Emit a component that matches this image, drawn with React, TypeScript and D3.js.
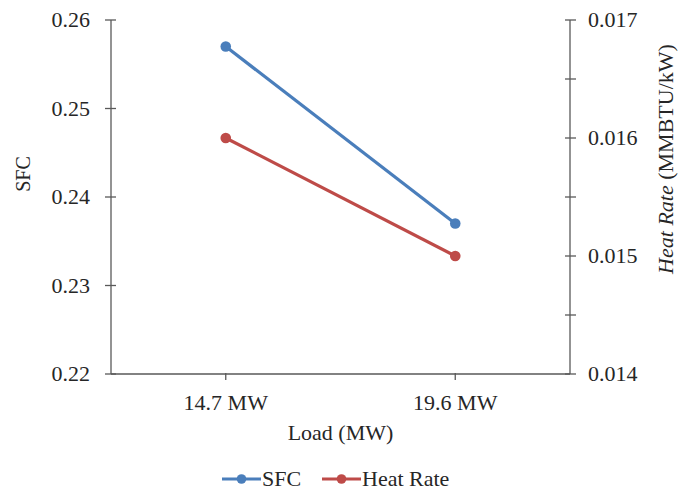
import { useEffect, useRef } from "react";
import * as d3 from "d3";

const loads = ["14.7 MW", "19.6 MW"];
const sfcValues = [0.257, 0.237];
const heatRateValues = [0.016, 0.015];
const sfcTicks = [0.22, 0.23, 0.24, 0.25, 0.26];
const heatTicks = [0.014, 0.0145, 0.015, 0.0155, 0.016, 0.0165, 0.017];
const heatLabels = [0.014, 0.015, 0.016, 0.017];

const WIDTH = 679;
const HEIGHT = 492;
const FONT = "'Liberation Serif', 'Times New Roman', serif";
const FS = 22;
const AXIS = "#595959";
const TEXT = "#262626";
const BLUE = "#4a7ebb";
const RED = "#be4b48";

export default function App() {
  const svgRef = useRef<SVGSVGElement | null>(null);

  useEffect(() => {
    const svgElement = svgRef.current;
    if (!svgElement) return;
    const svg = d3.select(svgElement);
    svg.selectAll("*").remove();

    const margin = { top: 20, right: 109, bottom: 118, left: 111 };
    const left = margin.left;
    const right = WIDTH - margin.right;
    const top = margin.top;
    const bottom = HEIGHT - margin.bottom;

    const x = d3.scalePoint<string>().domain(loads).range([left, right]).padding(0.5);
    const ySfc = d3.scaleLinear().domain([0.22, 0.26]).range([bottom, top]);
    const yHeat = d3.scaleLinear().domain([0.014, 0.017]).range([bottom, top]);

    // left axis
    svg.append("line")
      .attr("x1", left).attr("x2", left).attr("y1", top).attr("y2", bottom)
      .attr("stroke", AXIS).attr("stroke-width", 1.3);
    svg.selectAll(".ltick").data(sfcTicks).enter().append("line")
      .attr("x1", left - 6).attr("x2", left + 5)
      .attr("y1", (d) => ySfc(d)).attr("y2", (d) => ySfc(d))
      .attr("stroke", AXIS).attr("stroke-width", 1.3);
    svg.selectAll(".llabel").data(sfcTicks).enter().append("text")
      .attr("x", left - 21).attr("y", (d) => ySfc(d)).attr("dy", "0.33em")
      .attr("text-anchor", "end").attr("font-family", FONT).attr("font-size", FS)
      .attr("fill", TEXT).text((d) => d3.format(".2f")(d));

    // right axis
    svg.append("line")
      .attr("x1", right).attr("x2", right).attr("y1", top).attr("y2", bottom)
      .attr("stroke", AXIS).attr("stroke-width", 1.3);
    svg.selectAll(".rtick").data(heatTicks).enter().append("line")
      .attr("x1", right - 5).attr("x2", right + 6)
      .attr("y1", (d) => yHeat(d)).attr("y2", (d) => yHeat(d))
      .attr("stroke", AXIS).attr("stroke-width", 1.3);
    svg.selectAll(".rlabel").data(heatLabels).enter().append("text")
      .attr("x", right + 18).attr("y", (d) => yHeat(d)).attr("dy", "0.33em")
      .attr("text-anchor", "start").attr("font-family", FONT).attr("font-size", FS)
      .attr("fill", TEXT).text((d) => d3.format(".3f")(d));

    // x axis
    svg.append("line")
      .attr("x1", left).attr("x2", right).attr("y1", bottom).attr("y2", bottom)
      .attr("stroke", AXIS).attr("stroke-width", 1.3);
    svg.selectAll(".xtick").data(loads).enter().append("line")
      .attr("x1", (d) => x(d)!).attr("x2", (d) => x(d)!)
      .attr("y1", bottom - 1).attr("y2", bottom + 6)
      .attr("stroke", AXIS).attr("stroke-width", 1.3);
    svg.selectAll(".xlabel").data(loads).enter().append("text")
      .attr("x", (d) => x(d)!).attr("y", bottom + 36)
      .attr("text-anchor", "middle").attr("font-family", FONT).attr("font-size", FS)
      .attr("fill", TEXT).text((d) => d);

    // axis titles
    svg.append("text")
      .attr("x", (left + right) / 2).attr("y", bottom + 66)
      .attr("text-anchor", "middle").attr("font-family", FONT).attr("font-size", FS)
      .attr("fill", TEXT).text("Load (MW)");
    svg.append("text")
      .attr("transform", `translate(30,174) rotate(-90)`)
      .attr("text-anchor", "middle").attr("font-family", FONT).attr("font-size", 20)
      .attr("fill", TEXT).text("SFC");
    const rt = svg.append("text")
      .attr("transform", `translate(673,159) rotate(-90)`)
      .attr("text-anchor", "middle").attr("font-family", FONT).attr("font-size", FS)
      .attr("fill", TEXT);
    rt.append("tspan").attr("font-style", "italic").text("Heat Rate");
    rt.append("tspan").text(" (MMBTU/kW)");

    // series
    const series = [
      { name: "SFC", values: sfcValues, y: ySfc, color: BLUE },
      { name: "Heat Rate", values: heatRateValues, y: yHeat, color: RED },
    ];
    series.forEach((s) => {
      const line = d3.line<number>()
        .x((_, i) => x(loads[i])!)
        .y((d) => s.y(d));
      svg.append("path").datum(s.values)
        .attr("d", line).attr("fill", "none")
        .attr("stroke", s.color).attr("stroke-width", 3.2);
      svg.selectAll(null).data(s.values).enter().append("circle")
        .attr("cx", (_, i) => x(loads[i])!).attr("cy", (d) => s.y(d))
        .attr("r", 5.3).attr("fill", s.color);
    });

    // legend
    const legendY = 479;
    const legendItems = [
      { name: "SFC", color: BLUE, x: 222 },
      { name: "Heat Rate", color: RED, x: 322 },
    ];
    legendItems.forEach((item) => {
      svg.append("line")
        .attr("x1", item.x).attr("x2", item.x + 39).attr("y1", legendY).attr("y2", legendY)
        .attr("stroke", item.color).attr("stroke-width", 3.2);
      svg.append("circle")
        .attr("cx", item.x + 19.5).attr("cy", legendY).attr("r", 4.8).attr("fill", item.color);
      svg.append("text")
        .attr("x", item.x + 40).attr("y", legendY).attr("dy", "0.33em")
        .attr("font-family", FONT).attr("font-size", FS).attr("fill", TEXT)
        .text(item.name);
    });
  }, []);

  return (
    <svg
      ref={svgRef}
      width={WIDTH}
      height={HEIGHT}
      style={{ position: "absolute", left: 0, top: 0, background: "#fff" }}
    />
  );
}
